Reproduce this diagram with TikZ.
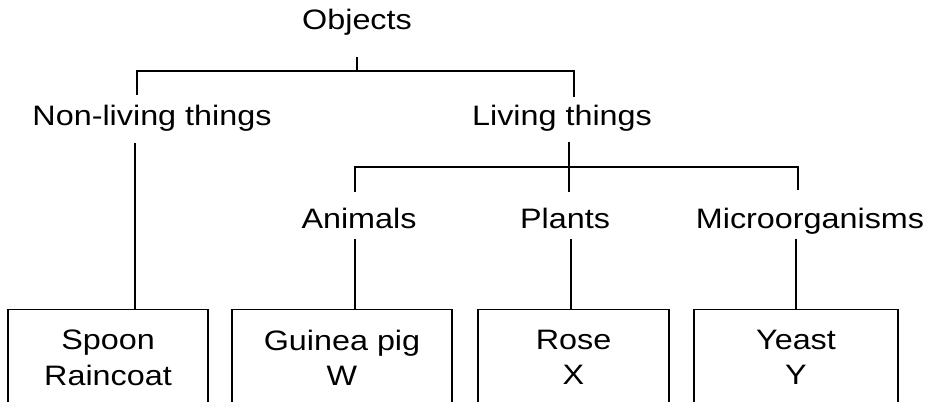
\documentclass[tikz,border=0pt]{standalone}
\usepackage{fontspec}
\setmainfont{Liberation Sans}[FakeStretch=1.15]
\usepackage{tikz}
\usetikzlibrary{positioning}
\tikzset{Label/.style={inner sep=0pt, anchor=base, font=\fontsize{16}{20.4}\selectfont}}
\tikzset{Item/.style={draw, line width=0.8pt, rectangle, anchor=north, inner xsep=0pt, inner ysep=4mm, align=center, font=\fontsize{16}{20.4}\selectfont}}
\tikzset{Tree Edge/.style={draw, line width=0.9pt}}

\begin{document}
\begin{tikzpicture}[x=0.2mm, y=-0.2mm]
\useasboundingbox (0,0) rectangle (932,402);
\clip (0,0) rectangle (932,402);

\node[Label] (objects) at (357,30) {Objects};
\node[Label] (nonliving) at (152,126) {Non-living things};
\node[Label] (living) at (562,126) {Living things};
\node[Label] (animals) at (359,229) {Animals};
\node[Label] (plants) at (565,229) {Plants};
\node[Label] (micro) at (810,229) {Microorganisms};

\node[Item, minimum width=40mm] (spoon) at (108,309) {Spoon\\Raincoat};
\node[Item, minimum width=44mm] (guinea) at (342,309) {Guinea pig\\W};
\node[Item, minimum width=38.2mm] (rose) at (573.5,309) {Rose\\X};
\node[Item, minimum width=40.8mm] (yeast) at (796,309) {Yeast\\Y};

\coordinate (top bar) at (357,71);
\coordinate (mid bar) at (569,167);

\draw[Tree Edge] ([shift={(0,27)}]objects.base) -- (top bar);
\draw[Tree Edge] ([shift={(-15,-31)}]nonliving.base) |- (top bar) -| ([shift={(12,-29)}]living.base);
\draw[Tree Edge] ([shift={(-17,17)}]nonliving.base) -- ([shift={(27,0)}]spoon.north);
\draw[Tree Edge] ([shift={(7,16)}]living.base) -- (mid bar);
\draw[Tree Edge] ([shift={(-4,-37)}]animals.base) |- (mid bar) -| ([shift={(-12,-39)}]micro.base);
\draw[Tree Edge] (mid bar) -- ([shift={(4,-37)}]plants.base);
\draw[Tree Edge] ([shift={(-4,10)}]animals.base) -- ([shift={(13,0)}]guinea.north);
\draw[Tree Edge] ([shift={(6,10)}]plants.base) -- ([shift={(-2.5,0)}]rose.north);
\draw[Tree Edge] ([shift={(-14,10)}]micro.base) -- (yeast.north);
\end{tikzpicture}
\end{document}
